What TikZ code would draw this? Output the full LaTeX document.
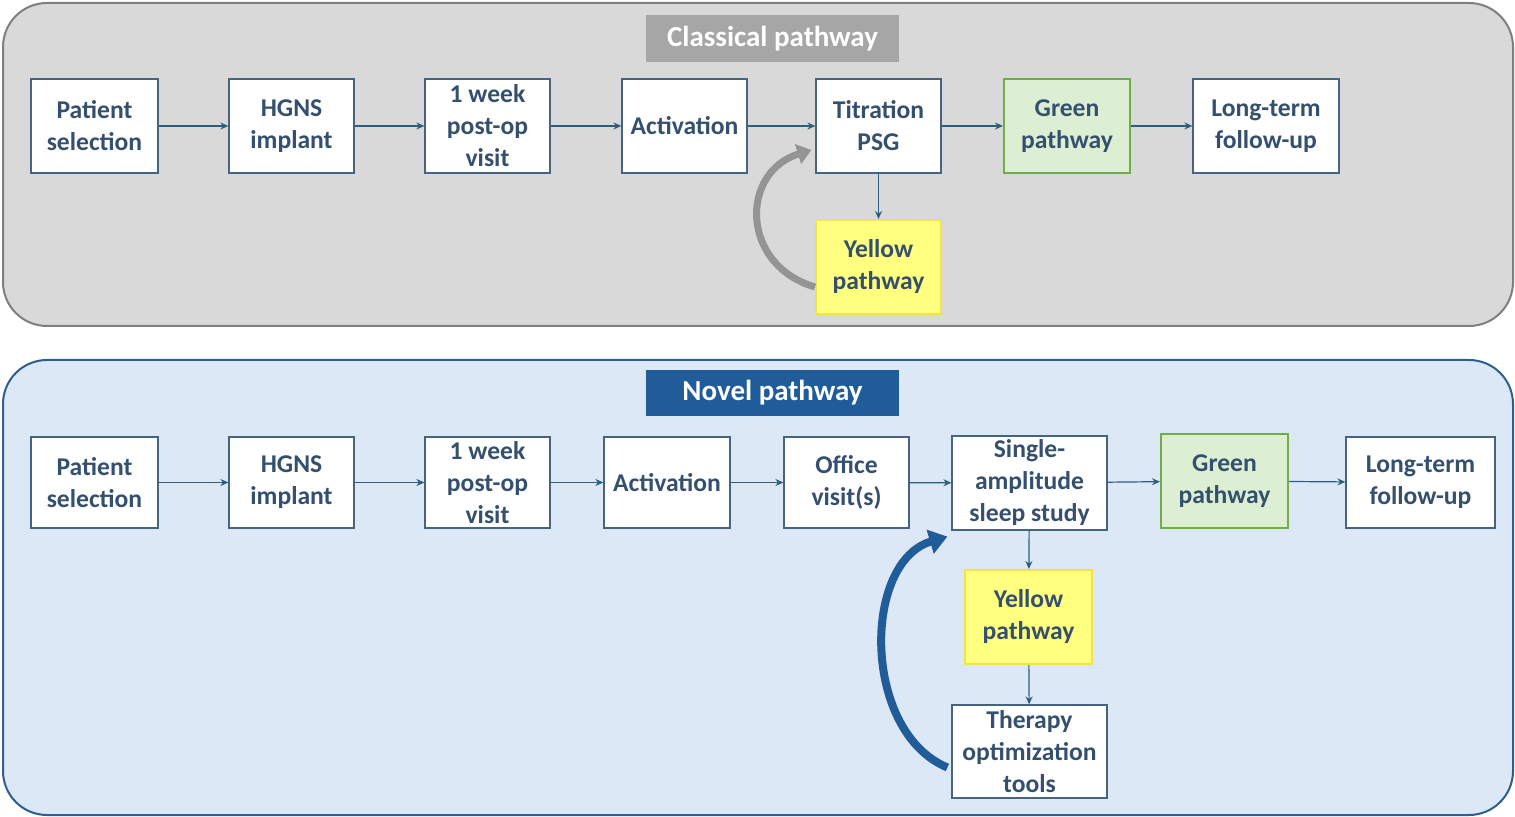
\documentclass[tikz,border=0pt]{standalone}
\usepackage{fontspec}
\setmainfont{Carlito}
\usetikzlibrary{arrows.meta}
\definecolor{txt}{HTML}{34506E}
\definecolor{conn}{HTML}{2E5E7E}
\definecolor{grayfill}{HTML}{D9D9D9}
\definecolor{grayedge}{HTML}{7F7F7F}
\definecolor{bluefill}{HTML}{DCE8F5}
\definecolor{blueedge}{HTML}{2E5E8E}
\definecolor{titlegray}{HTML}{A6A6A6}
\definecolor{titleblue}{HTML}{1F5C99}
\definecolor{greenfill}{HTML}{DDEFD3}
\definecolor{greenedge}{HTML}{70AD47}
\definecolor{yellowfill}{HTML}{FFFF80}
\definecolor{yellowedge}{HTML}{F2E34B}
\definecolor{boxedge}{HTML}{46647F}
\definecolor{loopgray}{HTML}{949494}
\definecolor{loopblue}{HTML}{1F5C99}
\tikzset{
  stepbox/.style={draw=boxedge, line width=0.6pt, fill=white, align=center,
    text=txt, font=\fontsize{12.8}{16}\selectfont\bfseries, inner sep=0pt},
  greenbox/.style={stepbox, fill=greenfill, draw=greenedge, line width=1pt},
  yellowbox/.style={stepbox, fill=yellowfill, draw=yellowedge, line width=1pt},
  titlebox/.style={align=center, text=white, font=\fontsize{14.5}{16}\selectfont\bfseries, inner sep=0pt},
  conn/.style={draw=conn, line width=0.6pt, -{Stealth[length=4pt,width=3.5pt]}},
}
\newcommand{\bx}[7]{\node[#6, minimum width={(#4-#2)*0.5pt}, minimum height={(#5-#3)*0.5pt}] (#1) at ({(#2+#4)/2},{(#3+#5)/2}) {#7};}
\begin{document}
\begin{tikzpicture}[x=0.5pt,y=-0.5pt]
\useasboundingbox (0,0) rectangle (1515,817);
% frames
\draw[fill=grayfill, draw=grayedge, line width=1pt, rounded corners=22pt] (3,3) rectangle (1513,326);
\draw[fill=bluefill, draw=blueedge, line width=1pt, rounded corners=22pt] (3,360) rectangle (1513,815);
\bx{t1}{646}{15}{899}{62}{titlebox, fill=titlegray}{Classical pathway}
\bx{t2}{646}{370}{899}{416}{titlebox, fill=titleblue}{Novel pathway}
% classical
\bx{a1}{31}{79}{158}{173}{stepbox}{Patient\\selection}
\bx{a2}{229}{79}{354}{173}{stepbox}{HGNS\\implant}
\bx{a3}{425}{79}{550}{173}{stepbox}{1 week\\post-op\\visit}
\bx{a4}{622}{79}{747}{173}{stepbox}{Activation}
\bx{a5}{816}{79}{941}{173}{stepbox}{Titration\\PSG}
\bx{a6}{1004}{79}{1130}{173}{greenbox}{Green\\pathway}
\bx{a7}{1193}{79}{1339}{173}{stepbox}{Long-term\\follow-up}
\bx{ay}{816}{220}{941}{314}{yellowbox}{Yellow\\pathway}
\draw[conn] (a1) -- (a2);
\draw[conn] (a2) -- (a3);
\draw[conn] (a3) -- (a4);
\draw[conn] (a4) -- (a5);
\draw[conn] (a5) -- (a6);
\draw[conn] (a6) -- (a7);
\draw[conn] (a5) -- (ay);
\coordinate (gs) at ([yshift=-10pt]ay.west);
\coordinate (ge) at ([xshift=-2pt,yshift=-12pt]a5.west);
\draw[draw=loopgray, line width=3.5pt, -{Triangle[length=7pt,width=10pt]}] (gs) .. controls (740,265) and (740,172) .. (ge);
% novel
\bx{b1}{31}{437}{158}{528}{stepbox}{Patient\\selection}
\bx{b2}{229}{437}{354}{528}{stepbox}{HGNS\\implant}
\bx{b3}{425}{437}{550}{528}{stepbox}{1 week\\post-op\\visit}
\bx{b4}{604}{437}{730}{528}{stepbox}{Activation}
\bx{b5}{784}{437}{909}{528}{stepbox}{Office\\visit(s)}
\bx{b6}{952}{436}{1107}{530}{stepbox}{Single-\\amplitude\\sleep study}
\bx{b7}{1161}{434}{1288}{528}{greenbox}{Green\\pathway}
\bx{b8}{1346}{437}{1495}{528}{stepbox}{Long-term\\follow-up}
\bx{by}{965}{570}{1092}{664}{yellowbox}{Yellow\\pathway}
\bx{bt}{952}{705}{1107}{798}{stepbox}{Therapy\\optimization\\tools}
\draw[conn] (b1) -- (b2);
\draw[conn] (b2) -- (b3);
\draw[conn] (b3) -- (b4);
\draw[conn] (b4) -- (b5);
\draw[conn] (b5) -- (b6);
\draw[conn] (b6) -- (b7);
\draw[conn] (b7) -- (b8);
\draw[conn] (b6) -- (by);
\draw[conn] (by) -- (bt);
\coordinate (bs) at ([xshift=-2pt,yshift=-8pt]bt.west);
\coordinate (be) at ([xshift=-2pt,yshift=-3pt]b6.south west);
\draw[draw=loopblue, line width=4pt, -{Triangle[length=9pt,width=12pt]}] (bs) .. controls (862,732) and (862,562) .. (be);
\end{tikzpicture}
\end{document}
